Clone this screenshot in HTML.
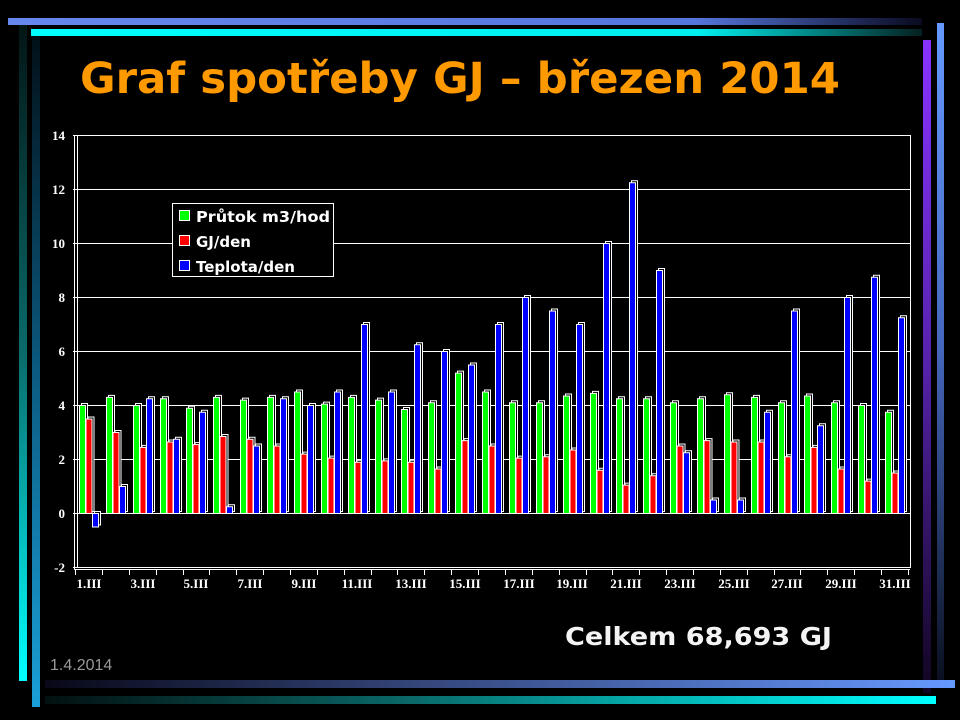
<!DOCTYPE html>
<html><head><meta charset="utf-8"><style>
body{margin:0;background:#000;width:960px;height:720px;overflow:hidden}
svg{display:block}
#bars rect{stroke:#fff;stroke-width:1;vector-effect:non-scaling-stroke}
#bars .k{fill:#000}
#bars .g{fill:#00ff00}
#bars .r{fill:#ff0000}
#bars .b{fill:#0000ff}
</style></head><body>
<svg width="960" height="720" xmlns="http://www.w3.org/2000/svg">
<defs>
<linearGradient id="gTop" x1="0" x2="1"><stop offset="0" stop-color="#6688ee"/><stop offset="0.75" stop-color="#5577dd"/><stop offset="1" stop-color="#0a0a20"/></linearGradient>
<linearGradient id="gCy" x1="0" x2="1"><stop offset="0" stop-color="#00ffff"/><stop offset="0.75" stop-color="#00eeee"/><stop offset="1" stop-color="#052020"/></linearGradient>
<linearGradient id="gL1" x1="0" y1="0" x2="0" y2="1"><stop offset="0" stop-color="#031515"/><stop offset="0.5" stop-color="#0a6a6a"/><stop offset="1" stop-color="#00ffff"/></linearGradient>
<linearGradient id="gL2" x1="0" y1="0" x2="0" y2="1"><stop offset="0" stop-color="#021018"/><stop offset="0.5" stop-color="#0b5a80"/><stop offset="1" stop-color="#1aa0d8"/></linearGradient>
<linearGradient id="gR1" x1="0" y1="0" x2="0" y2="1"><stop offset="0" stop-color="#8833ff"/><stop offset="0.5" stop-color="#5522aa"/><stop offset="1" stop-color="#100520"/></linearGradient>
<linearGradient id="gR2" x1="0" y1="0" x2="0" y2="1"><stop offset="0" stop-color="#6699ff"/><stop offset="0.5" stop-color="#4466bb"/><stop offset="1" stop-color="#0a1020"/></linearGradient>
<linearGradient id="gB1" x1="0" x2="1"><stop offset="0" stop-color="#080818"/><stop offset="0.4" stop-color="#334477"/><stop offset="1" stop-color="#6699ff"/></linearGradient>
<linearGradient id="gB2" x1="0" x2="1"><stop offset="0" stop-color="#031010"/><stop offset="0.4" stop-color="#0a6666"/><stop offset="1" stop-color="#00ffff"/></linearGradient>
</defs>
<rect x="8" y="18" width="914" height="7" fill="url(#gTop)"/>
<rect x="31" y="29" width="891" height="7" fill="url(#gCy)"/>
<rect x="19" y="25" width="8" height="656" fill="url(#gL1)"/>
<rect x="32" y="36" width="8" height="671" fill="url(#gL2)"/>
<rect x="923" y="40" width="8" height="653" fill="url(#gR1)"/>
<rect x="937" y="23" width="7" height="657" fill="url(#gR2)"/>
<rect x="45" y="680" width="910" height="8" fill="url(#gB1)"/>
<rect x="45" y="696" width="891" height="8" fill="url(#gB2)"/>
<text x="80" y="93" font-family="DejaVu Sans, sans-serif" font-weight="bold" font-size="43" fill="#ff9900" textLength="760" lengthAdjust="spacingAndGlyphs">Graf spotřeby GJ – březen 2014</text>

<g stroke="#fff" stroke-width="1" fill="none">
<rect x="77.5" y="135.5" width="833" height="432"/>
<line x1="73" x2="910" y1="135.5" y2="135.5"/><line x1="73" x2="910" y1="189.5" y2="189.5"/><line x1="73" x2="910" y1="243.5" y2="243.5"/><line x1="73" x2="910" y1="297.5" y2="297.5"/><line x1="73" x2="910" y1="351.5" y2="351.5"/><line x1="73" x2="910" y1="405.5" y2="405.5"/><line x1="73" x2="910" y1="459.5" y2="459.5"/><line x1="73" x2="910" y1="513.5" y2="513.5"/><line x1="73" x2="910" y1="567.5" y2="567.5"/>
<line x1="74.5" x2="74.5" y1="135" y2="569"/>
<line x1="74" x2="910" y1="569.5" y2="569.5"/>
<path d="M75.5 569v6M102.5 569v6M129.5 569v6M156.5 569v6M183.5 569v6M209.5 569v6M236.5 569v6M263.5 569v6M290.5 569v6M317.5 569v6M344.5 569v6M371.5 569v6M397.5 569v6M424.5 569v6M451.5 569v6M478.5 569v6M505.5 569v6M532.5 569v6M559.5 569v6M586.5 569v6M612.5 569v6M639.5 569v6M666.5 569v6M693.5 569v6M720.5 569v6M747.5 569v6M774.5 569v6M800.5 569v6M827.5 569v6M854.5 569v6M881.5 569v6M908.5 569v6"/>
</g>

<g id="bars" transform="translate(0.5,513.5) scale(1,-27)">
<g transform="translate(79)"><rect class="k" x="2" y="0.074" width="6" height="4"/><rect class="g" x="0" y="0" width="6" height="4"/><rect class="k" x="8.5" y="0.074" width="6" height="3.5"/><rect class="r" x="6.5" y="0" width="6" height="3.5"/><rect class="k" x="15" y="-0.426" width="6" height="0.5"/><rect class="b" x="13" y="-0.5" width="6" height="0.5"/></g>
<g transform="translate(106)"><rect class="k" x="2" y="0.074" width="6" height="4.3"/><rect class="g" x="0" y="0" width="6" height="4.3"/><rect class="k" x="8.5" y="0.074" width="6" height="3.0"/><rect class="r" x="6.5" y="0" width="6" height="3.0"/><rect class="k" x="15" y="0.074" width="6" height="1.0"/><rect class="b" x="13" y="0" width="6" height="1.0"/></g>
<g transform="translate(133)"><rect class="k" x="2" y="0.074" width="6" height="4.0"/><rect class="g" x="0" y="0" width="6" height="4.0"/><rect class="k" x="8.5" y="0.074" width="6" height="2.45"/><rect class="r" x="6.5" y="0" width="6" height="2.45"/><rect class="k" x="15" y="0.074" width="6" height="4.25"/><rect class="b" x="13" y="0" width="6" height="4.25"/></g>
<g transform="translate(160)"><rect class="k" x="2" y="0.074" width="6" height="4.25"/><rect class="g" x="0" y="0" width="6" height="4.25"/><rect class="k" x="8.5" y="0.074" width="6" height="2.65"/><rect class="r" x="6.5" y="0" width="6" height="2.65"/><rect class="k" x="15" y="0.074" width="6" height="2.75"/><rect class="b" x="13" y="0" width="6" height="2.75"/></g>
<g transform="translate(186)"><rect class="k" x="2" y="0.074" width="6" height="3.9"/><rect class="g" x="0" y="0" width="6" height="3.9"/><rect class="k" x="8.5" y="0.074" width="6" height="2.55"/><rect class="r" x="6.5" y="0" width="6" height="2.55"/><rect class="k" x="15" y="0.074" width="6" height="3.75"/><rect class="b" x="13" y="0" width="6" height="3.75"/></g>
<g transform="translate(213)"><rect class="k" x="2" y="0.074" width="6" height="4.3"/><rect class="g" x="0" y="0" width="6" height="4.3"/><rect class="k" x="8.5" y="0.074" width="6" height="2.85"/><rect class="r" x="6.5" y="0" width="6" height="2.85"/><rect class="k" x="15" y="0.074" width="6" height="0.25"/><rect class="b" x="13" y="0" width="6" height="0.25"/></g>
<g transform="translate(240)"><rect class="k" x="2" y="0.074" width="6" height="4.2"/><rect class="g" x="0" y="0" width="6" height="4.2"/><rect class="k" x="8.5" y="0.074" width="6" height="2.75"/><rect class="r" x="6.5" y="0" width="6" height="2.75"/><rect class="k" x="15" y="0.074" width="6" height="2.5"/><rect class="b" x="13" y="0" width="6" height="2.5"/></g>
<g transform="translate(267)"><rect class="k" x="2" y="0.074" width="6" height="4.3"/><rect class="g" x="0" y="0" width="6" height="4.3"/><rect class="k" x="8.5" y="0.074" width="6" height="2.5"/><rect class="r" x="6.5" y="0" width="6" height="2.5"/><rect class="k" x="15" y="0.074" width="6" height="4.25"/><rect class="b" x="13" y="0" width="6" height="4.25"/></g>
<g transform="translate(294)"><rect class="k" x="2" y="0.074" width="6" height="4.5"/><rect class="g" x="0" y="0" width="6" height="4.5"/><rect class="k" x="8.5" y="0.074" width="6" height="2.2"/><rect class="r" x="6.5" y="0" width="6" height="2.2"/><rect class="k" x="15" y="0.074" width="6" height="4.0"/><rect class="b" x="13" y="0" width="6" height="4.0"/></g>
<g transform="translate(321)"><rect class="k" x="2" y="0.074" width="6" height="4.05"/><rect class="g" x="0" y="0" width="6" height="4.05"/><rect class="k" x="8.5" y="0.074" width="6" height="2.05"/><rect class="r" x="6.5" y="0" width="6" height="2.05"/><rect class="k" x="15" y="0.074" width="6" height="4.5"/><rect class="b" x="13" y="0" width="6" height="4.5"/></g>
<g transform="translate(348)"><rect class="k" x="2" y="0.074" width="6" height="4.3"/><rect class="g" x="0" y="0" width="6" height="4.3"/><rect class="k" x="8.5" y="0.074" width="6" height="1.9"/><rect class="r" x="6.5" y="0" width="6" height="1.9"/><rect class="k" x="15" y="0.074" width="6" height="7.0"/><rect class="b" x="13" y="0" width="6" height="7.0"/></g>
<g transform="translate(375)"><rect class="k" x="2" y="0.074" width="6" height="4.2"/><rect class="g" x="0" y="0" width="6" height="4.2"/><rect class="k" x="8.5" y="0.074" width="6" height="1.95"/><rect class="r" x="6.5" y="0" width="6" height="1.95"/><rect class="k" x="15" y="0.074" width="6" height="4.5"/><rect class="b" x="13" y="0" width="6" height="4.5"/></g>
<g transform="translate(401)"><rect class="k" x="2" y="0.074" width="6" height="3.85"/><rect class="g" x="0" y="0" width="6" height="3.85"/><rect class="k" x="8.5" y="0.074" width="6" height="1.9"/><rect class="r" x="6.5" y="0" width="6" height="1.9"/><rect class="k" x="15" y="0.074" width="6" height="6.25"/><rect class="b" x="13" y="0" width="6" height="6.25"/></g>
<g transform="translate(428)"><rect class="k" x="2" y="0.074" width="6" height="4.1"/><rect class="g" x="0" y="0" width="6" height="4.1"/><rect class="k" x="8.5" y="0.074" width="6" height="1.65"/><rect class="r" x="6.5" y="0" width="6" height="1.65"/><rect class="k" x="15" y="0.074" width="6" height="6.0"/><rect class="b" x="13" y="0" width="6" height="6.0"/></g>
<g transform="translate(455)"><rect class="k" x="2" y="0.074" width="6" height="5.2"/><rect class="g" x="0" y="0" width="6" height="5.2"/><rect class="k" x="8.5" y="0.074" width="6" height="2.7"/><rect class="r" x="6.5" y="0" width="6" height="2.7"/><rect class="k" x="15" y="0.074" width="6" height="5.5"/><rect class="b" x="13" y="0" width="6" height="5.5"/></g>
<g transform="translate(482)"><rect class="k" x="2" y="0.074" width="6" height="4.5"/><rect class="g" x="0" y="0" width="6" height="4.5"/><rect class="k" x="8.5" y="0.074" width="6" height="2.5"/><rect class="r" x="6.5" y="0" width="6" height="2.5"/><rect class="k" x="15" y="0.074" width="6" height="7.0"/><rect class="b" x="13" y="0" width="6" height="7.0"/></g>
<g transform="translate(509)"><rect class="k" x="2" y="0.074" width="6" height="4.1"/><rect class="g" x="0" y="0" width="6" height="4.1"/><rect class="k" x="8.5" y="0.074" width="6" height="2.05"/><rect class="r" x="6.5" y="0" width="6" height="2.05"/><rect class="k" x="15" y="0.074" width="6" height="8.0"/><rect class="b" x="13" y="0" width="6" height="8.0"/></g>
<g transform="translate(536)"><rect class="k" x="2" y="0.074" width="6" height="4.1"/><rect class="g" x="0" y="0" width="6" height="4.1"/><rect class="k" x="8.5" y="0.074" width="6" height="2.1"/><rect class="r" x="6.5" y="0" width="6" height="2.1"/><rect class="k" x="15" y="0.074" width="6" height="7.5"/><rect class="b" x="13" y="0" width="6" height="7.5"/></g>
<g transform="translate(563)"><rect class="k" x="2" y="0.074" width="6" height="4.35"/><rect class="g" x="0" y="0" width="6" height="4.35"/><rect class="k" x="8.5" y="0.074" width="6" height="2.35"/><rect class="r" x="6.5" y="0" width="6" height="2.35"/><rect class="k" x="15" y="0.074" width="6" height="7.0"/><rect class="b" x="13" y="0" width="6" height="7.0"/></g>
<g transform="translate(590)"><rect class="k" x="2" y="0.074" width="6" height="4.45"/><rect class="g" x="0" y="0" width="6" height="4.45"/><rect class="k" x="8.5" y="0.074" width="6" height="1.6"/><rect class="r" x="6.5" y="0" width="6" height="1.6"/><rect class="k" x="15" y="0.074" width="6" height="10.0"/><rect class="b" x="13" y="0" width="6" height="10.0"/></g>
<g transform="translate(616)"><rect class="k" x="2" y="0.074" width="6" height="4.25"/><rect class="g" x="0" y="0" width="6" height="4.25"/><rect class="k" x="8.5" y="0.074" width="6" height="1.05"/><rect class="r" x="6.5" y="0" width="6" height="1.05"/><rect class="k" x="15" y="0.074" width="6" height="12.25"/><rect class="b" x="13" y="0" width="6" height="12.25"/></g>
<g transform="translate(643)"><rect class="k" x="2" y="0.074" width="6" height="4.25"/><rect class="g" x="0" y="0" width="6" height="4.25"/><rect class="k" x="8.5" y="0.074" width="6" height="1.4"/><rect class="r" x="6.5" y="0" width="6" height="1.4"/><rect class="k" x="15" y="0.074" width="6" height="9.0"/><rect class="b" x="13" y="0" width="6" height="9.0"/></g>
<g transform="translate(670)"><rect class="k" x="2" y="0.074" width="6" height="4.1"/><rect class="g" x="0" y="0" width="6" height="4.1"/><rect class="k" x="8.5" y="0.074" width="6" height="2.5"/><rect class="r" x="6.5" y="0" width="6" height="2.5"/><rect class="k" x="15" y="0.074" width="6" height="2.25"/><rect class="b" x="13" y="0" width="6" height="2.25"/></g>
<g transform="translate(697)"><rect class="k" x="2" y="0.074" width="6" height="4.25"/><rect class="g" x="0" y="0" width="6" height="4.25"/><rect class="k" x="8.5" y="0.074" width="6" height="2.7"/><rect class="r" x="6.5" y="0" width="6" height="2.7"/><rect class="k" x="15" y="0.074" width="6" height="0.5"/><rect class="b" x="13" y="0" width="6" height="0.5"/></g>
<g transform="translate(724)"><rect class="k" x="2" y="0.074" width="6" height="4.4"/><rect class="g" x="0" y="0" width="6" height="4.4"/><rect class="k" x="8.5" y="0.074" width="6" height="2.65"/><rect class="r" x="6.5" y="0" width="6" height="2.65"/><rect class="k" x="15" y="0.074" width="6" height="0.5"/><rect class="b" x="13" y="0" width="6" height="0.5"/></g>
<g transform="translate(751)"><rect class="k" x="2" y="0.074" width="6" height="4.3"/><rect class="g" x="0" y="0" width="6" height="4.3"/><rect class="k" x="8.5" y="0.074" width="6" height="2.65"/><rect class="r" x="6.5" y="0" width="6" height="2.65"/><rect class="k" x="15" y="0.074" width="6" height="3.75"/><rect class="b" x="13" y="0" width="6" height="3.75"/></g>
<g transform="translate(778)"><rect class="k" x="2" y="0.074" width="6" height="4.1"/><rect class="g" x="0" y="0" width="6" height="4.1"/><rect class="k" x="8.5" y="0.074" width="6" height="2.1"/><rect class="r" x="6.5" y="0" width="6" height="2.1"/><rect class="k" x="15" y="0.074" width="6" height="7.5"/><rect class="b" x="13" y="0" width="6" height="7.5"/></g>
<g transform="translate(804)"><rect class="k" x="2" y="0.074" width="6" height="4.35"/><rect class="g" x="0" y="0" width="6" height="4.35"/><rect class="k" x="8.5" y="0.074" width="6" height="2.45"/><rect class="r" x="6.5" y="0" width="6" height="2.45"/><rect class="k" x="15" y="0.074" width="6" height="3.25"/><rect class="b" x="13" y="0" width="6" height="3.25"/></g>
<g transform="translate(831)"><rect class="k" x="2" y="0.074" width="6" height="4.1"/><rect class="g" x="0" y="0" width="6" height="4.1"/><rect class="k" x="8.5" y="0.074" width="6" height="1.65"/><rect class="r" x="6.5" y="0" width="6" height="1.65"/><rect class="k" x="15" y="0.074" width="6" height="8.0"/><rect class="b" x="13" y="0" width="6" height="8.0"/></g>
<g transform="translate(858)"><rect class="k" x="2" y="0.074" width="6" height="4.0"/><rect class="g" x="0" y="0" width="6" height="4.0"/><rect class="k" x="8.5" y="0.074" width="6" height="1.2"/><rect class="r" x="6.5" y="0" width="6" height="1.2"/><rect class="k" x="15" y="0.074" width="6" height="8.75"/><rect class="b" x="13" y="0" width="6" height="8.75"/></g>
<g transform="translate(885)"><rect class="k" x="2" y="0.074" width="6" height="3.75"/><rect class="g" x="0" y="0" width="6" height="3.75"/><rect class="k" x="8.5" y="0.074" width="6" height="1.5"/><rect class="r" x="6.5" y="0" width="6" height="1.5"/><rect class="k" x="15" y="0.074" width="6" height="7.25"/><rect class="b" x="13" y="0" width="6" height="7.25"/></g>
</g>

<g font-family="Liberation Serif, serif" font-weight="bold" font-size="13" fill="#fff" text-anchor="end">
<text x="65" y="140">14</text><text x="65" y="194">12</text><text x="65" y="248">10</text><text x="65" y="302">8</text><text x="65" y="356">6</text><text x="65" y="410">4</text><text x="65" y="464">2</text><text x="65" y="518">0</text><text x="65" y="572">-2</text>
</g>
<g font-family="Liberation Serif, serif" font-weight="bold" font-size="13" fill="#fff" text-anchor="middle">
<text x="89" y="588">1.III</text><text x="143" y="588">3.III</text><text x="196" y="588">5.III</text><text x="250" y="588">7.III</text><text x="304" y="588">9.III</text><text x="357" y="588">11.III</text><text x="411" y="588">13.III</text><text x="465" y="588">15.III</text><text x="519" y="588">17.III</text><text x="572" y="588">19.III</text><text x="626" y="588">21.III</text><text x="680" y="588">23.III</text><text x="734" y="588">25.III</text><text x="787" y="588">27.III</text><text x="841" y="588">29.III</text><text x="895" y="588">31.III</text>
</g>
<rect x="172.5" y="203.5" width="161" height="73" fill="#000" stroke="#fff" stroke-width="1"/>
<rect x="179.5" y="210.5" width="10" height="10" fill="#00ff00" stroke="#fff"/>
<rect x="179.5" y="235.5" width="10" height="10" fill="#ff0000" stroke="#fff"/>
<rect x="179.5" y="260.5" width="10" height="10" fill="#0000ff" stroke="#fff"/>
<g font-family="DejaVu Sans, sans-serif" font-weight="bold" font-size="15" fill="#fff">
<text x="196" y="222" textLength="134" lengthAdjust="spacingAndGlyphs">Průtok m3/hod</text><text x="196" y="247">GJ/den</text><text x="196" y="272">Teplota/den</text>
</g>
<text x="565" y="645" font-family="DejaVu Sans, sans-serif" font-weight="bold" font-size="25" fill="#f4f4f4" textLength="267" lengthAdjust="spacingAndGlyphs">Celkem 68,693 GJ</text>
<text x="50" y="670" font-family="Liberation Sans, sans-serif" font-size="16" fill="#999">1.4.2014</text>
</svg>
</body></html>
